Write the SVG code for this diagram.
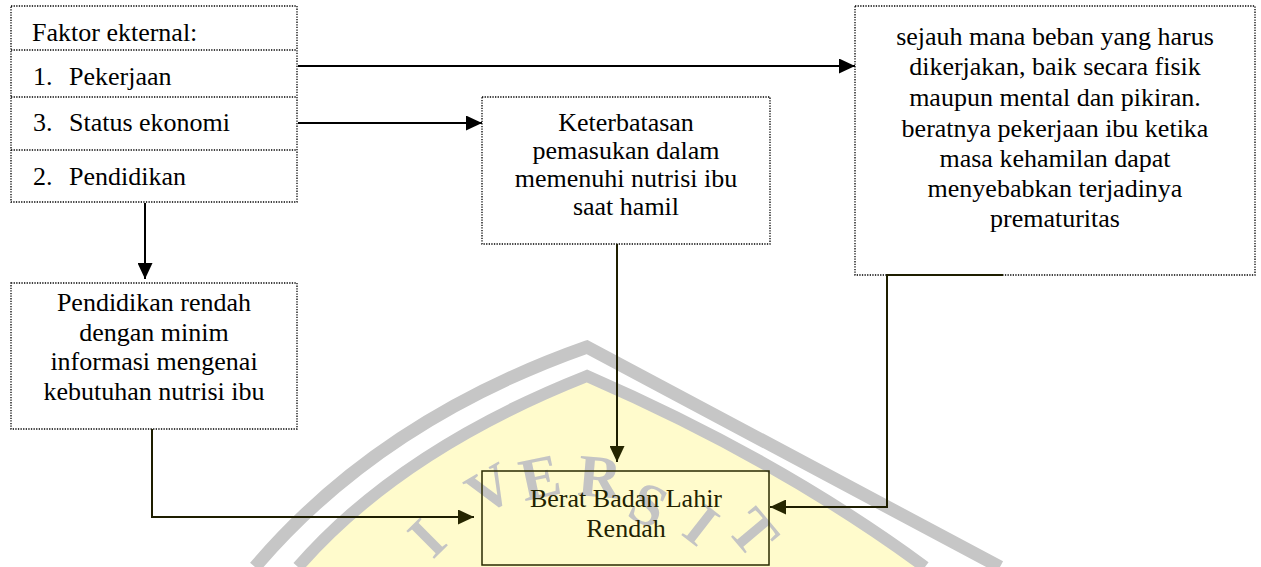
<svg xmlns="http://www.w3.org/2000/svg" width="1261" height="567" viewBox="0 0 1261 567">
<style>
.box{fill:none;stroke:#000;stroke-width:1.3;stroke-dasharray:1.3 1.3}
.ln{fill:none;stroke:#000;stroke-width:2}
.ln2{fill:none;stroke:#1e1e00;stroke-width:2}
.wm{font-family:'Liberation Serif','DejaVu Serif',serif;font-size:60px;font-weight:bold;fill:#c4c4c4;text-anchor:middle}
</style>
<defs>
<marker id="ah" markerUnits="userSpaceOnUse" markerWidth="16" markerHeight="15" refX="16" refY="7.5" orient="auto"><path d="M0,0 L16,7.5 L0,15 Z" fill="#000"/></marker>
<marker id="ah2" markerUnits="userSpaceOnUse" markerWidth="16" markerHeight="15" refX="16" refY="7.5" orient="auto"><path d="M0,0 L16,7.5 L0,15 Z" fill="#262600"/></marker>
</defs>
<rect width="1261" height="567" fill="#fff"/>
<g id="watermark">
<path d="M298,567 Q400,450 587,376 Q780,460 925,567 Z" fill="#fffbcc"/>
<path d="M255,567 Q380,420 587,347 Q800,460 1000,567" fill="none" stroke="#c6c6c6" stroke-width="13"/>
<path d="M298,567 Q400,450 587,376 Q780,460 925,567" fill="none" stroke="#c6c6c6" stroke-width="12"/>
<text class="wm" font-size="60" x="0" y="0" transform="translate(441,552) rotate(-45)">I</text>
<text class="wm" font-size="60" x="0" y="0" transform="translate(500,506) rotate(-30)">V</text>
<text class="wm" font-size="60" x="0" y="0" transform="translate(544,497) rotate(-12)">E</text>
<text class="wm" font-size="60" x="0" y="0" transform="translate(598,497) rotate(5)">R</text>
<text class="wm" font-size="60" x="0" y="0" transform="translate(640,523) rotate(25)">S</text>
<text class="wm" font-size="60" x="0" y="0" transform="translate(689,541) rotate(38)">I</text>
<text class="wm" font-size="60" x="0" y="0" transform="translate(738,545) rotate(50)">T</text>
</g>
<g font-family="'Liberation Serif', 'DejaVu Serif', serif" font-size="26" fill="#000">
<g id="faktor-eksternal">
<rect class="box" x="11" y="6" width="286" height="196"/>
<line class="box" x1="11" y1="50" x2="297" y2="50"/>
<line class="box" x1="11" y1="97" x2="297" y2="97"/>
<line class="box" x1="11" y1="150" x2="297" y2="150"/>
<text x="32" y="41">Faktor ekternal:</text>
<text x="33" y="85">1.</text><text x="69" y="85">Pekerjaan</text>
<text x="33" y="131">3.</text><text x="69" y="131">Status ekonomi</text>
<text x="33" y="185">2.</text><text x="69" y="185">Pendidikan</text>
</g>
<g id="keterbatasan" text-anchor="middle">
<rect class="box" x="482" y="97" width="288" height="147"/>
<text x="626" y="131">Keterbatasan</text>
<text x="626" y="159">pemasukan dalam</text>
<text x="626" y="187">memenuhi nutrisi ibu</text>
<text x="626" y="215">saat hamil</text>
</g>
<g id="beban-kerja" text-anchor="middle">
<rect class="box" x="855" y="6" width="400" height="269"/>
<text x="1055" y="45">sejauh mana beban yang harus</text>
<text x="1055" y="75">dikerjakan, baik secara fisik</text>
<text x="1055" y="106">maupun mental dan pikiran.</text>
<text x="1055" y="137">beratnya pekerjaan ibu ketika</text>
<text x="1055" y="167">masa kehamilan dapat</text>
<text x="1055" y="197">menyebabkan terjadinya</text>
<text x="1055" y="227">prematuritas</text>
</g>
<g id="pendidikan-rendah" text-anchor="middle">
<rect class="box" x="11" y="283" width="286" height="146"/>
<text x="154" y="311">Pendidikan rendah</text>
<text x="154" y="341">dengan minim</text>
<text x="154" y="370">informasi mengenai</text>
<text x="154" y="400">kebutuhan nutrisi ibu</text>
</g>
<g id="bblr" text-anchor="middle" fill="#222200">
<rect x="482" y="471" width="287" height="94" fill="none" stroke="#2a2a00" stroke-width="1.5"/>
<text x="626" y="507">Berat Badan Lahir</text>
<text x="626" y="537">Rendah</text>
</g>
</g>
<g id="connectors">
<path class="ln" d="M298,66 H855" marker-end="url(#ah)"/>
<path class="ln" d="M298,123 H482" marker-end="url(#ah)"/>
<path class="ln" d="M145,203 V279" marker-end="url(#ah)"/>
<path class="ln2" d="M152,429 V517 H474" marker-end="url(#ah2)"/>
<path class="ln2" d="M617,244 V462" marker-end="url(#ah2)"/>
<path class="ln2" d="M1003,275 H887 V507 H770" marker-end="url(#ah2)"/>
</g>
</svg>
